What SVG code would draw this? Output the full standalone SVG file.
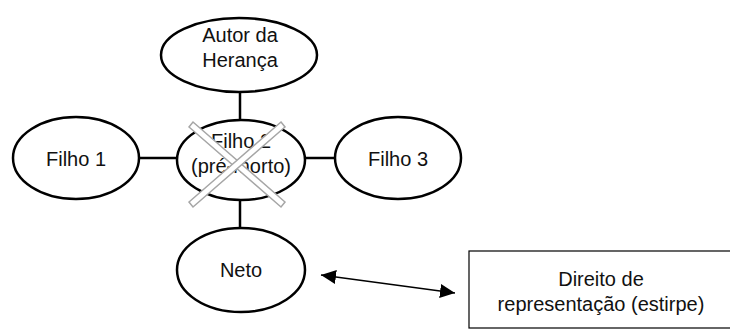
<svg xmlns="http://www.w3.org/2000/svg" width="730" height="330" viewBox="0 0 730 330">
<defs>
<style>
.n{fill:#fff;stroke:#000;stroke-width:2.5}
.t{font-family:"Liberation Sans",Arial,sans-serif;font-size:20px;fill:#111;text-anchor:middle}
.c{stroke:#000;stroke-width:2.5;fill:none}
.x{fill:#fff;stroke:#a6a6a6;stroke-width:1.5}
</style>
<marker id="ah" viewBox="0 0 15 14" refX="15" refY="7" markerWidth="15" markerHeight="14" markerUnits="userSpaceOnUse" orient="auto-start-reverse"><path d="M0,0 L15,7 L0,14 z" fill="#000"/></marker>
</defs>
<rect width="730" height="330" fill="#fff"/>
<g id="connectors">
<line class="c" x1="240" y1="92" x2="240" y2="120"/>
<line class="c" x1="139" y1="158" x2="177" y2="158"/>
<line class="c" x1="305" y1="158" x2="335" y2="158"/>
<line class="c" x1="240" y1="200" x2="240" y2="228"/>
<line x1="321" y1="275" x2="455" y2="293" stroke="#000" stroke-width="1.4" marker-start="url(#ah)" marker-end="url(#ah)"/>
</g>
<g id="autor">
<ellipse class="n" cx="239" cy="55" rx="78" ry="37"/>
<text class="t" x="240" y="42">Autor da</text>
<text class="t" x="240" y="67">Herança</text>
</g>
<g id="filho1">
<ellipse class="n" cx="76" cy="158" rx="63" ry="41"/>
<text class="t" x="76" y="166">Filho 1</text>
</g>
<g id="filho2">
<ellipse class="n" cx="241" cy="160" rx="64" ry="40"/>
<text class="t" x="241" y="148">Filho 2</text>
<text class="t" x="241" y="173">(pré-morto)</text>
<g id="cross">
<polygon class="x" points="189,127 193,122 285,202 281,207"/>
<polygon class="x" points="281,122 285,127 193,207 189,202"/>
</g>
</g>
<g id="filho3">
<ellipse class="n" cx="398" cy="158" rx="63" ry="41"/>
<text class="t" x="398" y="166">Filho 3</text>
</g>
<g id="neto">
<ellipse class="n" cx="241" cy="270" rx="64" ry="42"/>
<text class="t" x="241" y="277">Neto</text>
</g>
<g id="direito">
<rect x="469" y="251" width="275" height="77" fill="#fff" stroke="#000" stroke-width="1.2"/>
<text class="t" x="601" y="286">Direito de</text>
<text class="t" x="601" y="311">representação (estirpe)</text>
</g>
</svg>
